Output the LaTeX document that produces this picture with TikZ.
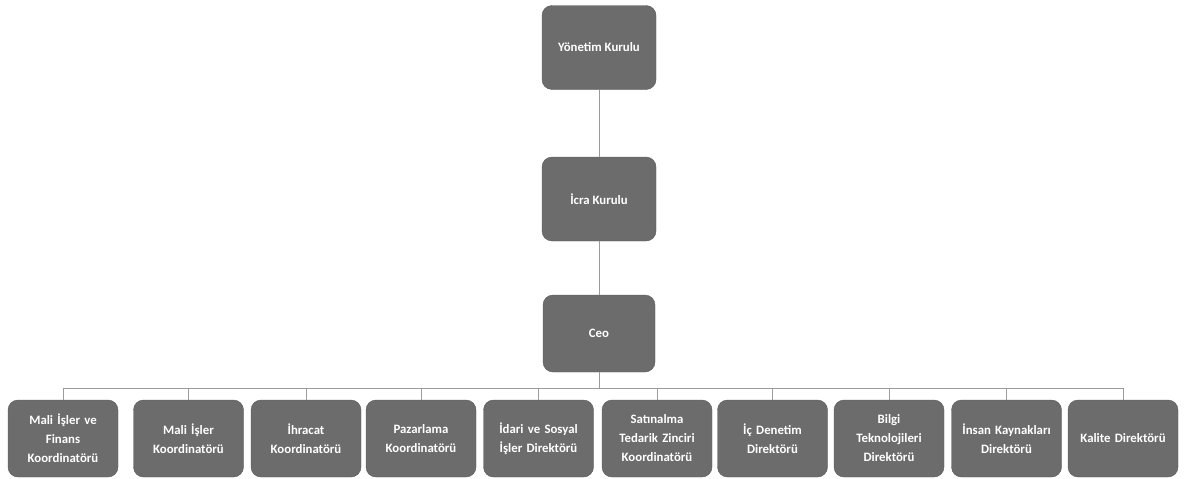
\documentclass[tikz,border=0pt]{standalone}
\usepackage{fontspec}
\setmainfont{Carlito}
\definecolor{boxgray}{RGB}{108,108,108}
\definecolor{boxedge}{RGB}{90,90,90}
\definecolor{linegray}{RGB}{155,155,155}
\tikzset{
  unit/.style={draw=boxedge, fill=boxgray, rounded corners=10pt, text=white,
    font=\bfseries\fontsize{12.8}{19}\selectfont, align=center, inner sep=2pt},
  head/.style={unit, minimum width=114pt, minimum height=84pt},
  dept/.style={unit, minimum width=110pt, minimum height=77pt, text width=106pt},
  link/.style={draw=linegray, line width=0.8pt}
}
\begin{document}
\begin{tikzpicture}[x=1pt, y=-1pt]
  \useasboundingbox (0,0) rectangle (1186,479);

  \node[head](yonetim) at (599,47.5)  {Yönetim Kurulu};
  \node[head](icra)    at (599,199)   {İcra Kurulu};
  \node[head, minimum width=112pt, minimum height=77pt](ceo) at (599,333.5) {Ceo};

  \node[dept](malifinans) at (63,438.5)    {Mali İşler ve\\Finans\\Koordinatörü};
  \node[dept](mali)       at (188.5,438.5) {Mali İşler\\Koordinatörü};
  \node[dept](ihracat)    at (306,438.5)   {İhracat\\Koordinatörü};
  \node[dept](pazarlama)  at (421,438.5)   {Pazarlama\\Koordinatörü};
  \node[dept](idari)      at (538.5,438.5) {İdari ve Sosyal\\İşler Direktörü};
  \node[dept](satinalma)  at (657,438.5)   {Satınalma\\Tedarik Zinciri\\Koordinatörü};
  \node[dept](denetim)    at (772.5,438.5) {İç Denetim\\Direktörü};
  \node[dept](bilgi)      at (889,438.5)   {Bilgi\\Teknolojileri\\Direktörü};
  \node[dept](insan)      at (1006.5,438.5){İnsan Kaynakları\\Direktörü};
  \node[dept](kalite)     at (1123,438.5)  {Kalite Direktörü};

  \coordinate (bus) at (0,388);

  \draw[link] (yonetim)--(icra);
  \draw[link] (icra)--(ceo);

  \draw[link] (ceo.south)--(ceo.south |- bus)-|(malifinans.north);
  \draw[link] (ceo.south)--(ceo.south |- bus)-|(mali.north);
  \draw[link] (ceo.south)--(ceo.south |- bus)-|(ihracat.north);
  \draw[link] (ceo.south)--(ceo.south |- bus)-|(pazarlama.north);
  \draw[link] (ceo.south)--(ceo.south |- bus)-|(idari.north);
  \draw[link] (ceo.south)--(ceo.south |- bus)-|(satinalma.north);
  \draw[link] (ceo.south)--(ceo.south |- bus)-|(denetim.north);
  \draw[link] (ceo.south)--(ceo.south |- bus)-|(bilgi.north);
  \draw[link] (ceo.south)--(ceo.south |- bus)-|(insan.north);
  \draw[link] (ceo.south)--(ceo.south |- bus)-|(kalite.north);
\end{tikzpicture}
\end{document}
